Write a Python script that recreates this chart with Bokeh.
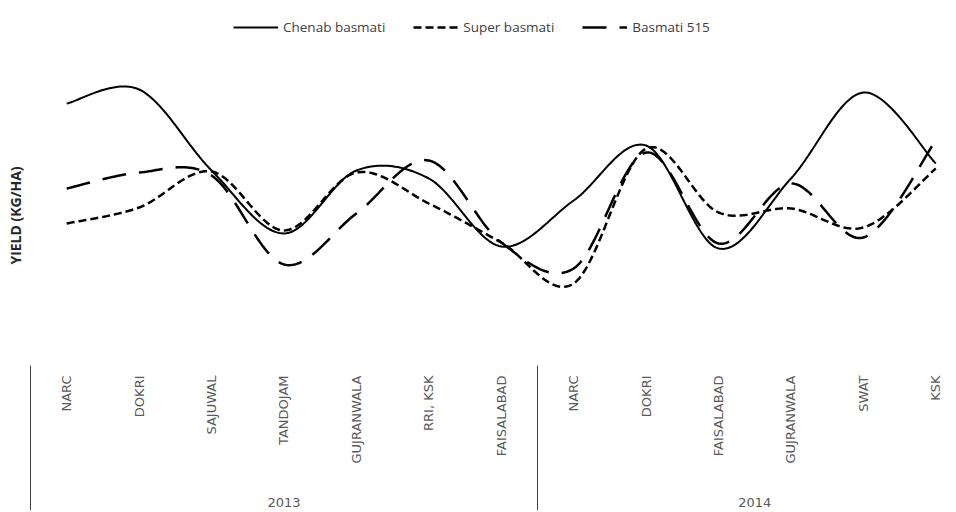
import numpy as np
from math import pi
from bokeh.plotting import figure
from bokeh.layouts import column
from bokeh.models import Range1d, FixedTicker, LinearAxis, Legend, LegendItem
from bokeh.embed import file_html
from bokeh.resources import INLINE

# ---- data ----
sites = ["NARC", "DOKRI", "SAJUWAL", "TANDOJAM", "GUJRANWALA", "RRI, KSK", "FAISALABAD",
         "NARC", "DOKRI", "FAISALABAD", "GUJRANWALA", "SWAT", "KSK"]
years = ["2013", "2014"]
year_counts = [7, 6]
series_names = ["Chenab basmati", "Super basmati", "Basmati 515"]
chenab = [2620, 2760, 1950, 1320, 1950, 1870, 1190, 1650, 2200, 1170, 1870, 2730, 2020]
super_basmati = [1420, 1580, 1940, 1350, 1930, 1620, 1230, 820, 2170, 1530, 1570, 1380, 1970]
basmati_515 = [1770, 1930, 1900, 1010, 1520, 2050, 1230, 970, 2130, 1220, 1820, 1280, 2250]


def smooth(ys, n=30):
    """Excel-style smoothed line (Catmull-Rom -> cubic Bezier) through the points."""
    ys = np.asarray(ys, float)
    xs = np.arange(len(ys), dtype=float)
    px = np.concatenate([[xs[0]], xs, [xs[-1]]])
    py = np.concatenate([[ys[0]], ys, [ys[-1]]])
    t = np.linspace(0, 1, n, endpoint=False)
    ox, oy = [], []
    for i in range(len(ys) - 1):
        p0 = np.array([px[i], py[i]]); p1 = np.array([px[i + 1], py[i + 1]])
        p2 = np.array([px[i + 2], py[i + 2]]); p3 = np.array([px[i + 3], py[i + 3]])
        c1 = p1 + (p2 - p0) / 6.0
        c2 = p2 - (p3 - p1) / 6.0
        b = ((1 - t) ** 3)[:, None] * p1 + (3 * (1 - t) ** 2 * t)[:, None] * c1 \
            + (3 * (1 - t) * t ** 2)[:, None] * c2 + (t ** 3)[:, None] * p2
        ox.extend(b[:, 0]); oy.extend(b[:, 1])
    ox.append(xs[-1]); oy.append(ys[-1])
    return ox, oy


styles = [("solid", 2), ("8 4", 2.5), ("24 13", 2.5)]
all_series = [chenab, super_basmati, basmati_515]

# ---------- main chart ----------
p = figure(width=944, height=445, output_backend="svg", toolbar_location=None,
           x_range=Range1d(-0.5, 12.12), y_range=Range1d(0, 3000),
           min_border_left=30, min_border_right=0, min_border_top=0, min_border_bottom=145)
p.outline_line_color = None
p.xgrid.grid_line_color = None
p.ygrid.grid_line_color = None

for vals, (dash, w) in zip(all_series, styles):
    sx, sy = smooth(vals)
    p.line(sx, sy, line_color="black", line_width=w, line_dash=dash)

# y axis: only its title
p.yaxis.ticker = FixedTicker(ticks=[])
p.yaxis.axis_line_color = None
p.yaxis.major_tick_out = 0
p.yaxis.minor_tick_out = 0
p.yaxis.major_label_standoff = 0
p.yaxis.axis_label = "YIELD (KG/HA)"
p.yaxis.axis_label_text_font = "Open Sans"
p.yaxis.axis_label_text_font_style = "bold"
p.yaxis.axis_label_text_font_size = "14px"
p.yaxis.axis_label_text_color = "#262626"
p.yaxis.axis_label_standoff = 6

# x axis: site names + group separators (minor ticks)
seps = [-0.5]
acc = -0.5
for c in year_counts:
    acc += c
    seps.append(acc)
xa = p.xaxis[0]
xa.ticker = FixedTicker(ticks=list(range(len(sites))), minor_ticks=seps)
xa.major_label_overrides = {i: s for i, s in enumerate(sites)}
xa.major_label_orientation = pi / 2
xa.major_label_text_font = "DejaVu Sans"
xa.major_label_text_font_size = "13px"
xa.major_label_text_color = "#595959"
xa.major_label_standoff = -140
xa.axis_line_color = None
xa.major_tick_out = 0
xa.major_tick_in = 0
xa.minor_tick_in = 0
xa.minor_tick_out = 150
xa.minor_tick_line_color = "#404040"
xa.minor_tick_line_width = 1

# year group labels
centers = [(seps[i] + seps[i + 1]) / 2 for i in range(len(years))]
ya = LinearAxis(ticker=FixedTicker(ticks=centers),
                major_label_overrides={c: y for c, y in zip(centers, years)})
ya.axis_line_color = None
ya.major_tick_out = 0
ya.major_tick_in = 0
ya.minor_tick_out = 0
ya.minor_tick_in = 0
ya.major_label_text_font = "DejaVu Sans"
ya.major_label_text_font_size = "13px"
ya.major_label_text_color = "#595959"
ya.major_label_standoff = 31
p.add_layout(ya, "below")

# ---------- legend strip on top (its lines lie outside its view) ----------
lg = figure(width=944, height=65, output_backend="svg", toolbar_location=None,
            x_range=Range1d(-0.5, 12.12), y_range=Range1d(-2, -1), min_border=0)
lg.outline_line_color = None
lg.axis.visible = False
lg.grid.visible = False
items = []
for name, vals, (dash, w) in zip(series_names, all_series, styles):
    r = lg.line(list(range(len(vals))), vals, line_color="black", line_width=w, line_dash=dash)
    items.append(LegendItem(label=name, renderers=[r]))
legend = Legend(items=items, location=(203, 28), orientation="horizontal",
                padding=0, margin=0, spacing=28, glyph_width=45, label_standoff=5,
                label_text_font="Open Sans", label_text_font_size="13.5px",
                label_text_color="#404040", border_line_color=None,
                background_fill_alpha=0)
lg.add_layout(legend)

layout = column(lg, p, spacing=0)
open("out.html", "w").write(file_html(layout, INLINE))
